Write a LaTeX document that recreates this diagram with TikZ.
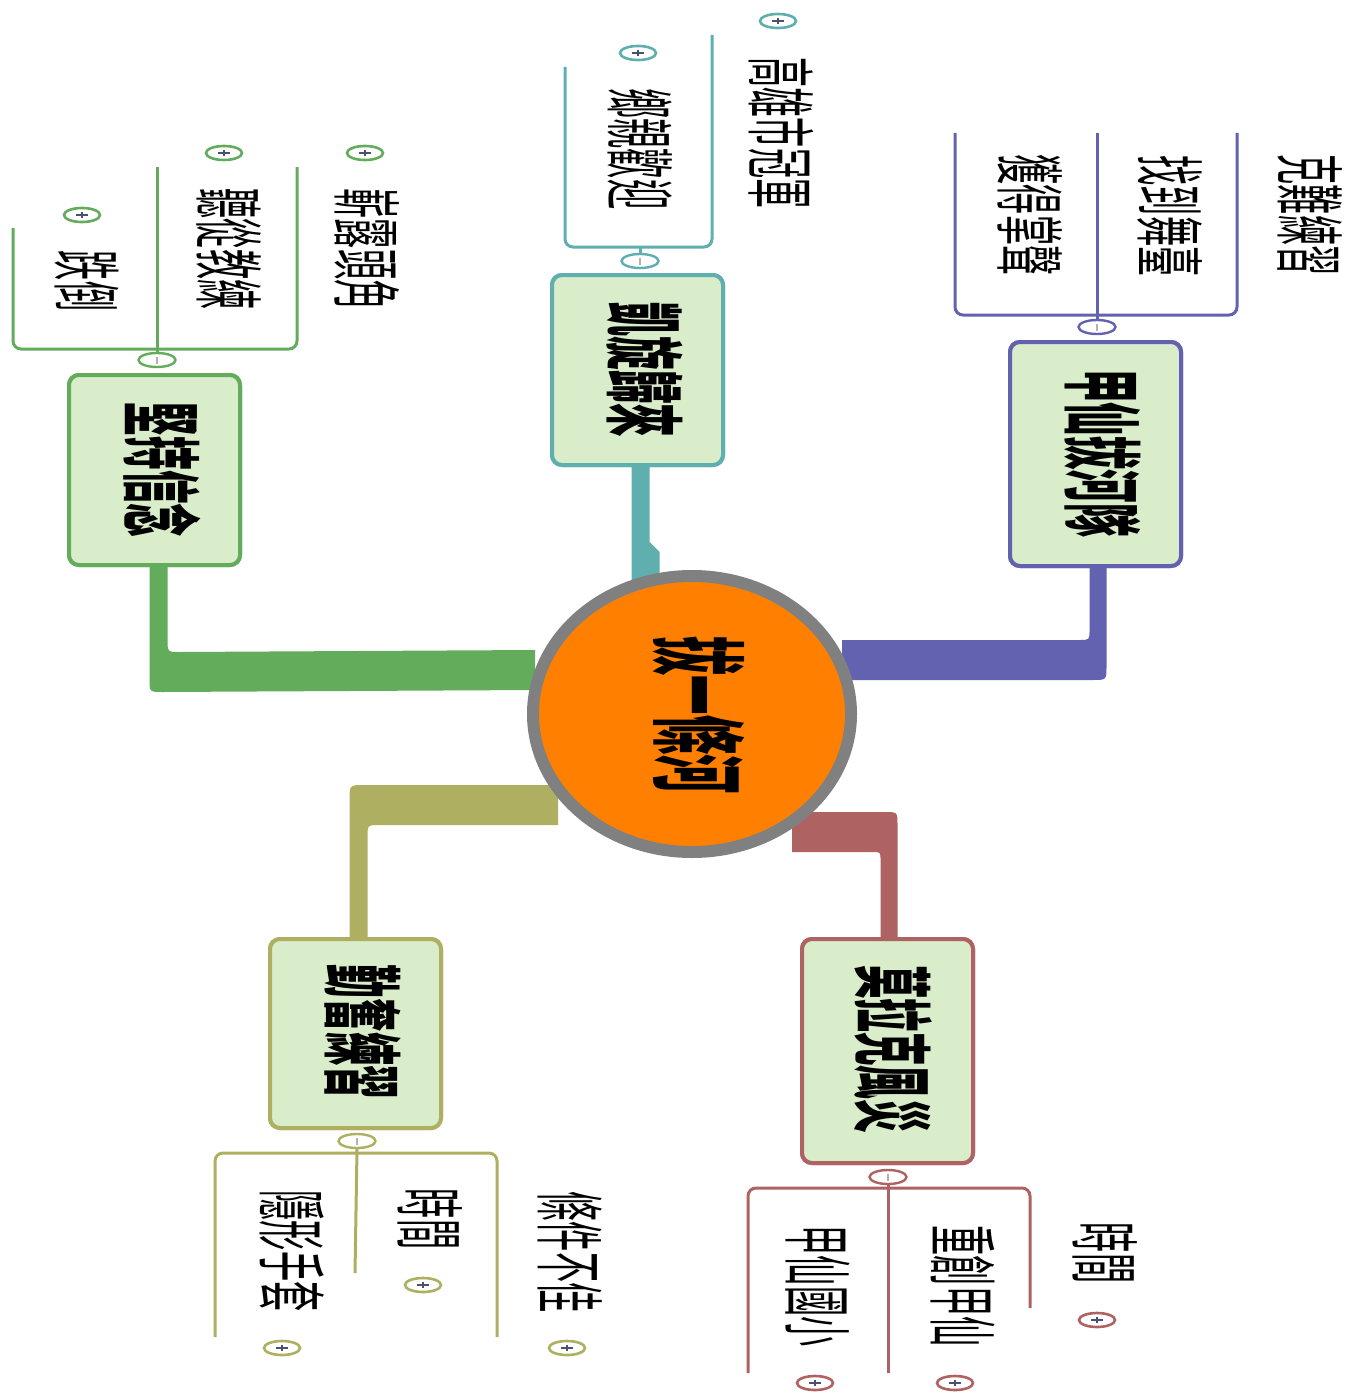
\documentclass[tikz,border=0pt]{standalone}
\usepackage{fontspec}
\usetikzlibrary{shapes.geometric,calc}
\newfontfamily\cjk{Noto Sans CJK TC}
\definecolor{cg}{HTML}{62AC5C}
\definecolor{ct}{HTML}{5FAFAF}
\definecolor{cp}{HTML}{6262B0}
\definecolor{co}{HTML}{AFAF62}
\definecolor{cr}{HTML}{AF6262}
\definecolor{bf}{HTML}{D9EDCB}
\definecolor{orng}{HTML}{FF8000}
\definecolor{rim}{HTML}{808080}
\definecolor{icon}{HTML}{4A5070}
\tikzset{
  mainbox/.style={draw=#1, rounded corners=10, line width=4, fill=bf, minimum width=171, inner sep=0},
  thinline/.style={draw=#1, line width=3, rounded corners=8},
  ctext/.style={rotate=-90, xscale=0.43, inner sep=0, font=\cjk\fontsize{70}{70}\selectfont},
  mtext/.style={rotate=-90, xscale=0.42, inner sep=0, font=\cjk\bfseries\fontsize{80}{80}\selectfont},
  plusmark/.style={ellipse, draw=#1, line width=2.6, fill=white, minimum width=36, minimum height=14, inner sep=0},
  colmark/.style={ellipse, draw=#1, line width=2.4, fill=white, minimum width=37, minimum height=14, inner sep=0},
}
\newcommand{\plusin}[1]{\draw[icon, line width=1.6] ($(#1.center)+(-6,0)$) -- ($(#1.center)+(6,0)$) ($(#1.center)+(0,-3)$) -- ($(#1.center)+(0,3)$);}
\newcommand{\minusin}[1]{\draw[black!30, line width=1.4] ($(#1.center)+(0,-3.5)$) -- ($(#1.center)+(0,3.5)$);}
\begin{document}
\begin{tikzpicture}[x=1pt,y=-1pt]
\useasboundingbox[fill=white] (0,0) rectangle (1349,1394);

% ---------- boxes (placed first to name them) ----------
\node[mainbox=cg, minimum height=190] (gbox) at (154.5,470) {};
\node[mainbox=ct, minimum height=190] (tbox) at (637.5,370) {};
\node[mainbox=cp, minimum height=224] (pbox) at (1095.5,454) {};
\node[mainbox=co, minimum height=189] (obox) at (355.5,1033.5) {};
\node[mainbox=cr, minimum height=224] (rbox) at (887.5,1051) {};

% ---------- thick branches ----------
\fill[cg] ($(gbox.south)+(-5,0)$) -- ($(gbox.south)+(-5,112)$) .. controls ($(gbox.south)+(-5,125)$) .. ($(gbox.south)+(8,125)$) -- (535,690) -- (535,650) -- ($(gbox.south)+(25,85)$) .. controls ($(gbox.south)+(13,85)$) .. ($(gbox.south)+(13,72)$) -- ($(gbox.south)+(13,0)$) -- cycle;
\fill[ct] ($(tbox.south)+(-6,0)$) -- ($(tbox.south)+(12,0)$) -- ($(tbox.south)+(12,75)$) -- ($(tbox.south)+(22,85)$) -- ($(tbox.south)+(22,115)$) -- ($(tbox.south)+(-6,115)$) -- cycle;
\fill[cp] ($(pbox.south)+(-6,0)$) -- ($(pbox.south)+(-6,62)$) .. controls ($(pbox.south)+(-6,72)$) .. ($(pbox.south)+(-16,72)$) -- (842,640) -- (842,680) -- ($(pbox.south)+(-3,112)$) .. controls ($(pbox.south)+(11,112)$) .. ($(pbox.south)+(11,98)$) -- ($(pbox.south)+(11,0)$) -- cycle;
\fill[co] ($(obox.north)+(-6,0)$) -- ($(obox.north)+(-6,-137)$) .. controls ($(obox.north)+(-6,-152)$) .. ($(obox.north)+(9,-152)$) -- (558,785) -- (558,825) -- ($(obox.north)+(24,-112)$) .. controls ($(obox.north)+(12,-112)$) .. ($(obox.north)+(12,-100)$) -- ($(obox.north)+(12,0)$) -- cycle;
\fill[cr] ($(rbox.north)+(10,0)$) -- ($(rbox.north)+(10,-112)$) .. controls ($(rbox.north)+(10,-125)$) .. ($(rbox.north)+(-3,-125)$) -- (792,812) -- (792,852) -- ($(rbox.north)+(-15,-85)$) .. controls ($(rbox.north)+(-7,-85)$) .. ($(rbox.north)+(-7,-77)$) -- ($(rbox.north)+(-7,0)$) -- cycle;

% redraw boxes over branches
\node[mainbox=cg, minimum height=190] at (gbox) {};
\node[mainbox=ct, minimum height=190] at (tbox) {};
\node[mainbox=cp, minimum height=224] at (pbox) {};
\node[mainbox=co, minimum height=189] at (obox) {};
\node[mainbox=cr, minimum height=224] at (rbox) {};

% ---------- central topic ----------
\node[ellipse, draw=rim, line width=12, fill=orng, minimum width=318, minimum height=276, inner sep=0] (center) at (692,714) {};
\node[rotate=-90, xscale=0.41, inner sep=0, font=\cjk\bfseries\fontsize{96}{96}\selectfont] (ctxt) at (699,715) {拔一條河};

% ---------- main topic texts ----------
\node[mtext] (gt) at (162,470) {堅持信念};
\node[mtext] (tt) at (645,370) {凱旋歸來};
\node[mtext] (pt) at (1103,453) {甲仙拔河隊};
\node[mtext] (ot) at (363,1032) {勤奮練習};
\node[mtext] (rt) at (893,1049) {莫拉克風災};

% ---------- collapse markers ----------
\node[colmark=cg] (gcol) at (157,360) {};
\node[colmark=ct] (tcol) at (640,261) {};
\node[colmark=cp] (pcol) at (1097,327) {};
\node[colmark=co] (ocol) at (357,1141) {};
\node[colmark=cr] (rcol) at (888,1177) {};
\minusin{gcol}\minusin{tcol}\minusin{pcol}\minusin{ocol}\minusin{rcol}

% ---------- child brackets ----------
\draw[thinline=cg] (13,228) -- (13,349) -- (297,349) -- (297,167);
\draw[cg, line width=3] (157,167) -- (157,349);
\draw[cg, line width=3] (157,349) -- (gcol.north);
\draw[thinline=ct] (565,67) -- (565,247) -- (712,247) -- (712,35);
\draw[ct, line width=3] (640,247) -- (tcol.north);
\draw[thinline=cp] (955,133) -- (955,315) -- (1237,315) -- (1237,133);
\draw[cp, line width=3] (1097,133) -- (pcol.north);
\draw[thinline=co] (215,1337) -- (215,1153) -- (497,1153) -- (497,1337);
\draw[co, line width=3] (355,1273) -- (ocol.south);
\draw[thinline=cr] (748,1373) -- (748,1188) -- (1030,1188) -- (1030,1308);
\draw[cr, line width=3] (888,1373) -- (rcol.south);

% ---------- child texts ----------
\node[ctext] (g1) at (87,281) {跌倒};
\node[ctext] (g2) at (229,249) {聽從教練};
\node[ctext] (g3) at (367,249) {嶄露頭角};
\node[ctext] (t1) at (640,149) {鄉親歡迎};
\node[ctext] (t2) at (781,133) {高雄市冠軍};
\node[ctext] (p1) at (1030,215) {獲得掌聲};
\node[ctext] (p2) at (1170,216) {找到舞臺};
\node[ctext] (p3) at (1310,215) {克難練習};
\node[ctext] (o1) at (292,1251) {隱形手套};
\node[ctext] (o2) at (430,1219) {時間};
\node[ctext] (o3) at (570,1252) {條件不佳};
\node[ctext] (r1) at (818,1286) {甲仙國小};
\node[ctext] (r2) at (963,1286) {重創甲仙};
\node[ctext] (r3) at (1105,1253) {時間};

% ---------- expand markers ----------
\node[plusmark=cg] (gp1) at (82,215) {};
\node[plusmark=cg] (gp2) at (224,153) {};
\node[plusmark=cg] (gp3) at (365,153) {};
\node[plusmark=ct] (tp1) at (638,53) {};
\node[plusmark=ct] (tp2) at (778,21) {};
\node[plusmark=co] (op1) at (282,1348) {};
\node[plusmark=co] (op2) at (423,1285) {};
\node[plusmark=co] (op3) at (567,1348) {};
\node[plusmark=cr] (rp1) at (815,1383) {};
\node[plusmark=cr] (rp2) at (955,1383) {};
\node[plusmark=cr] (rp3) at (1097,1320) {};
\plusin{gp1}\plusin{gp2}\plusin{gp3}\plusin{tp1}\plusin{tp2}
\plusin{op1}\plusin{op2}\plusin{op3}\plusin{rp1}\plusin{rp2}\plusin{rp3}
\end{tikzpicture}
\end{document}
